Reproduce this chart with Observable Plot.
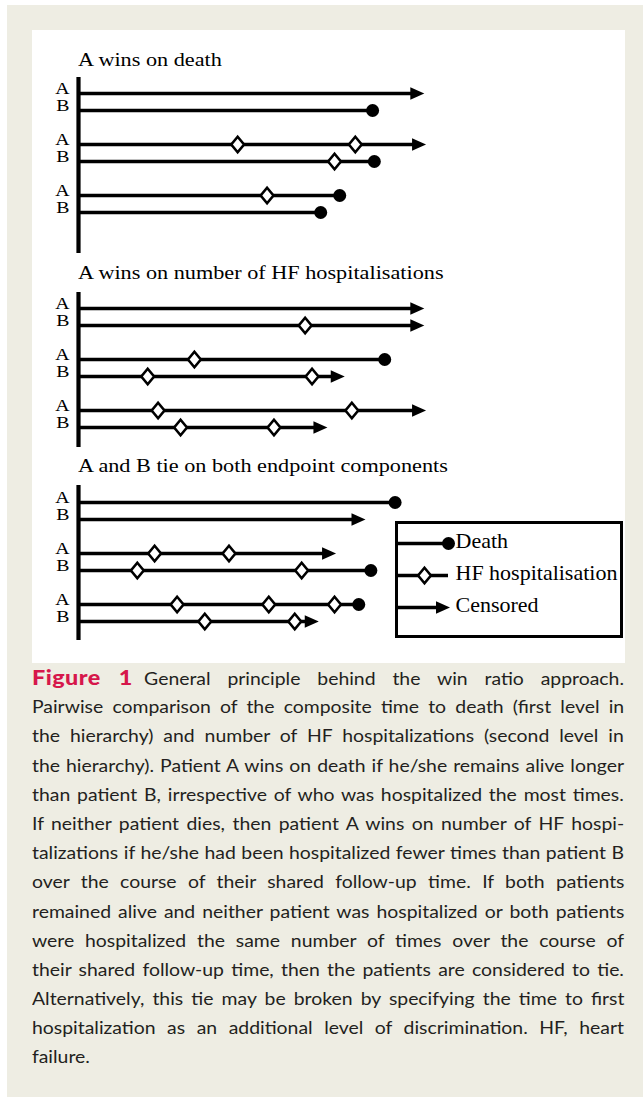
<!DOCTYPE html>
<html>
<head>
<meta charset="utf-8">
<script src="https://cdn.jsdelivr.net/npm/d3@7"></script>
<script src="https://cdn.jsdelivr.net/npm/@observablehq/plot@0.6"></script>
<style>
  html, body { margin: 0; padding: 0; background: #ffffff; }
  body { width: 643px; height: 1097px; position: relative; overflow: hidden; }
  #panel { position: absolute; left: 7px; top: 5px; width: 636px; height: 1092px; background: #eeede3; }
  #fig { position: absolute; left: 32px; top: 30px; width: 593px; height: 633px; background: #ffffff; }
  .chart { position: absolute; left: 32px; }
  .stitle { position: absolute; left: 78px; font-family: "Liberation Serif", serif; font-size: 19.5px; line-height: 24px; color: #000; white-space: nowrap; transform: scaleX(1.14); transform-origin: 0 0; }
  #legend { position: absolute; left: 395px; top: 521px; width: 222px; height: 111px; border: 3px solid #000; background: #fff; }
  #caption { position: absolute; left: 32px; top: 663px; width: 592px; font-family: Lato, sans-serif; font-size: 17px; line-height: 29.2px; color: #231f20; }
  #caption .line { white-space: nowrap; height: 29.2px; }
  #caption .inner { display: inline-block; white-space: nowrap; transform-origin: 0 0; }
  #caption .fig { color: #d6174b; font-weight: 900; font-size: 20.5px; letter-spacing: 0.4px; }
</style>
</head>
<body>
<div id="panel"></div>
<div id="fig"></div>
<div id="charts"></div>
<div id="legend"></div>
<div id="caption"></div>
<script>
// ---------------- data ----------------
const sectionTitles = [
  "A wins on death",
  "A wins on number of HF hospitalisations",
  "A and B tie on both endpoint components"
];
// rows: pair number + patient
const rowKeys = ["1A", "1B", "2A", "2B", "3A", "3B"];
// follow-up end time per row (time units, 0 = start)
const endTimes = [
  [98.5, 85, 99, 85.5, 75.5, 70],
  [98.5, 98.5, 88.5, 75.5, 99, 70.5],
  [91.5, 81.5, 73, 84.5, 81, 68]
];
// how follow-up ends per row
const outcomes = [
  ["censored", "death", "censored", "death", "death", "death"],
  ["censored", "censored", "death", "censored", "censored", "censored"],
  ["death", "censored", "censored", "death", "death", "censored"]
];
// HF hospitalisation times per row
const hospTimes = [
  [[], [], [46, 80], [74], [54.5], []],
  [[], [65.5], [33.5], [20, 67.5], [23, 79], [29.5, 56.5]],
  [[], [], [22, 43.5], [17, 64.5], [28.5, 55, 74], [36.5, 62.5]]
];
const legendLabels = ["Death", "HF hospitalisation", "Censored"];
const legendMarks = ["death", "hosp", "censored"];
const captionLines = [
  "General principle behind the win ratio approach.",
  "Pairwise comparison of the composite time to death (first level in",
  "the hierarchy) and number of HF hospitalizations (second level in",
  "the hierarchy). Patient A wins on death if he/she remains alive longer",
  "than patient B, irrespective of who was hospitalized the most times.",
  "If neither patient dies, then patient A wins on number of HF hospi-",
  "talizations if he/she had been hospitalized fewer times than patient B",
  "over the course of their shared follow-up time. If both patients",
  "remained alive and neither patient was hospitalized or both patients",
  "were hospitalized the same number of times over the course of",
  "their shared follow-up time, then the patients are considered to tie.",
  "Alternatively, this tie may be broken by specifying the time to first",
  "hospitalization as an additional level of discrimination. HF, heart",
  "failure."
];

// ---------------- symbols ----------------
const arrowSym = { draw(ctx) { ctx.moveTo(5, 0); ctx.lineTo(-9, -6.2); ctx.lineTo(-9, 6.2); ctx.closePath(); } };
const diamondSym = { draw(ctx) { ctx.moveTo(0, -7.8); ctx.lineTo(6.4, 0); ctx.lineTo(0, 7.8); ctx.lineTo(-6.4, 0); ctx.closePath(); } };

const yDomain = ["1A", "1B", "gap1", "2A", "2B", "gap2", "3A", "3B"];
const layouts = [
  { top: 30,  h: 230, mt: 47, mb: 7, yr: [63, 182], titleTop: 48 },
  { top: 283, h: 170, mt: 9,  mb: 6, yr: [24, 144], titleTop: 261 },
  { top: 478, h: 170, mt: 7,  mb: 8, yr: [22, 144], titleTop: 454 }
];
const baseStyle = { background: "transparent", fontFamily: "'Liberation Serif', serif", fontSize: "20px", color: "#000", overflow: "visible" };

function stretchTexts(svg, sx) {
  svg.querySelectorAll("text").forEach(t => {
    const tr = t.getAttribute("transform");
    if (tr && tr.startsWith("translate")) t.setAttribute("transform", tr + ` scale(${sx},1)`);
  });
}

const chartsDiv = document.getElementById("charts");
sectionTitles.forEach((title, i) => {
  const L = layouts[i];
  const rows = rowKeys.map((k, j) => ({ row: k, start: 0, end: endTimes[i][j], outcome: outcomes[i][j] }));
  const hosps = rowKeys.flatMap((k, j) => hospTimes[i][j].map(t => ({ row: k, t })));
  const chart = Plot.plot({
    width: 593, height: L.h,
    marginLeft: 46, marginRight: 201, marginTop: L.mt, marginBottom: L.mb,
    x: { domain: [0, 100], axis: null },
    y: { type: "point", domain: yDomain, range: L.yr, padding: 0 },
    style: baseStyle,
    marks: [
      Plot.ruleX([0], { strokeWidth: 4.2, stroke: "#000" }),
      Plot.ruleY(rows, { y: "row", x1: "start", x2: "end", strokeWidth: 3.6, stroke: "#000" }),
      Plot.dot(hosps, { x: "t", y: "row", symbol: diamondSym, fill: "#fff", stroke: "#000", strokeWidth: 2.6 }),
      Plot.dot(rows.filter(d => d.outcome === "death"), { x: "end", y: "row", r: 6.5, fill: "#000" }),
      Plot.dot(rows.filter(d => d.outcome === "censored"), { x: "end", y: "row", symbol: arrowSym, fill: "#000" }),
      Plot.axisY({ ticks: rowKeys, tickFormat: d => d.slice(-1), tickSize: 0, tickPadding: 9, dy: -5, label: null, fontSize: 16.5, fill: "#000" })
    ]
  });
  stretchTexts(chart, 1.2);
  chart.classList.add("chart");
  chart.style.top = L.top + "px";
  chartsDiv.appendChild(chart);
  const t = document.createElement("div");
  t.className = "stitle";
  t.style.top = L.titleTop + "px";
  t.textContent = title;
  chartsDiv.appendChild(t);
});

// ---------------- legend ----------------
const legendData = legendLabels.map((label, i) => ({ label, kind: legendMarks[i], start: 0, end: 1 }));
const legend = Plot.plot({
  width: 222, height: 111,
  marginLeft: 0, marginRight: 172, marginTop: 0, marginBottom: 0,
  x: { domain: [0, 1], axis: null },
  y: { type: "point", domain: legendLabels, range: [18, 83], padding: 0, axis: null },
  style: baseStyle,
  marks: [
    Plot.ruleY(legendData, { y: "label", x1: "start", x2: d => d.kind === "censored" ? 0.93 : 1, strokeWidth: 3.6, stroke: "#000" }),
    Plot.dot(legendData.filter(d => d.kind === "death"), { x: "end", y: "label", r: 6.5, fill: "#000" }),
    Plot.dot(legendData.filter(d => d.kind === "hosp"), { x: 0.52, y: "label", symbol: diamondSym, fill: "#fff", stroke: "#000", strokeWidth: 2.6 }),
    Plot.dot(legendData.filter(d => d.kind === "censored"), { x: 0.93, y: "label", symbol: arrowSym, fill: "#000" }),
    Plot.text(legendData, { x: "end", y: "label", text: "label", textAnchor: "start", dx: 7, dy: -1.5, fontSize: 20, fill: "#000" })
  ]
});
stretchTexts(legend, 1.1);
document.getElementById("legend").appendChild(legend);

// ---------------- caption ----------------
const cap = document.getElementById("caption");
captionLines.forEach((txt, i) => {
  const line = document.createElement("div");
  line.className = "line";
  const inner = document.createElement("span");
  inner.className = "inner";
  if (i === 0) {
    const f = document.createElement("span");
    f.className = "fig";
    f.textContent = "Figure 1";
    inner.appendChild(f);
    const gap = document.createElement("span");
    gap.style.display = "inline-block";
    gap.style.width = "10px";
    inner.appendChild(gap);
  }
  inner.appendChild(document.createTextNode(txt));
  line.appendChild(inner);
  cap.appendChild(line);
});
function fitCaption() {
  const target = 592;
  const inners = Array.from(cap.querySelectorAll(".inner"));
  inners.forEach(el => { el.style.wordSpacing = "0px"; el.style.transform = "none"; });
  const widths = inners.map(el => el.offsetWidth);
  const maxW = d3.max(widths.slice(0, -1));
  const k = 0.99 * target / maxW;
  inners.forEach((el, i) => {
    el.style.transform = `scaleX(${k})`;
    if (i === inners.length - 1) return;
    const n = (el.textContent.match(/ /g) || []).length;
    if (n > 0) el.style.wordSpacing = ((target / k - widths[i]) / n) + "px";
  });
}
fitCaption();
if (document.fonts && document.fonts.ready) document.fonts.ready.then(fitCaption);
</script>
</body>
</html>
